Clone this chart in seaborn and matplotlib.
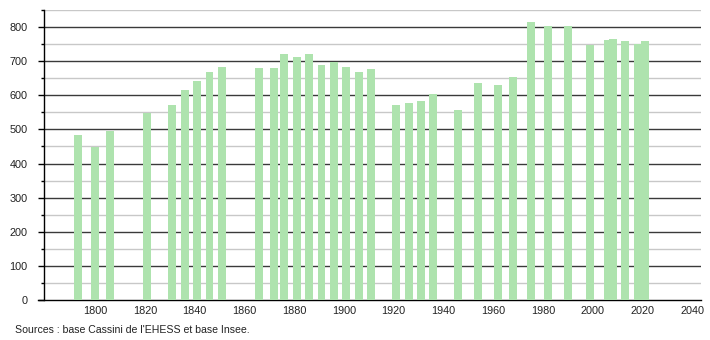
import numpy as np
import pandas as pd
import matplotlib
matplotlib.use("Agg")
import matplotlib.pyplot as plt
import seaborn as sns

years = [1793, 1800, 1806, 1821, 1831, 1836, 1841, 1846, 1851,
         1866, 1872, 1876, 1881, 1886, 1891, 1896, 1901, 1906, 1911,
         1921, 1926, 1931, 1936, 1946, 1954, 1962, 1968, 1975, 1982,
         1990, 1999, 2006, 2008, 2013, 2018, 2021]
population = [485, 449, 494, 549, 571, 615, 642, 669, 683,
              681, 681, 721, 712, 720, 688, 698, 684, 668, 677,
              571, 578, 582, 605, 556, 637, 629, 655, 815, 804,
              804, 748, 762, 766, 759, 750, 759]
x_ticks = list(range(1800, 2041, 20))
y_major = list(range(0, 801, 100))
source_text = "Sources : base Cassini de l'EHESS et base Insee."

sns.set_theme(style="white")
plt.rcParams["font.family"] = ["Liberation Sans", "DejaVu Sans"]

df = pd.DataFrame({"year": years, "pop": population})

fig = plt.figure(figsize=(7.1, 3.4), dpi=100)
ax = fig.add_axes([44 / 710, 1 - 300 / 340, (701 - 44) / 710, (300 - 10) / 340])

bar_years = 3.2
min_gap = np.diff(sorted(years)).min()
sns.barplot(data=df, x="year", y="pop", native_scale=True, errorbar=None,
            color="#aee3ae", saturation=1, width=bar_years / min_gap,
            edgecolor="none", ax=ax, zorder=3)

ax.set_xlim(1779.5, 2043.5)
ax.set_ylim(0, 850)
ax.set_xlabel("")
ax.set_ylabel("")

# grid lines
for v in range(50, 851, 100):
    ax.axhline(v, color="#c8c8c8", lw=1.0, zorder=1)
for v in y_major[1:]:
    ax.axhline(v, color="#3a3a3a", lw=1.0, zorder=1)

ax.set_xticks(x_ticks)
ax.set_xticklabels([str(t) for t in x_ticks])
ax.set_yticks(y_major)
ax.set_yticklabels([str(t) for t in y_major])
ax.set_yticks(list(range(50, 851, 100)), minor=True)

for s in ["top", "right"]:
    ax.spines[s].set_visible(False)
ax.spines["left"].set_color("black")
ax.spines["bottom"].set_color("black")
ax.spines["left"].set_linewidth(1.0)
ax.spines["bottom"].set_linewidth(1.0)
ax.spines["bottom"].set_bounds(1777.0, 2043.5)
ax.spines["bottom"].set_clip_on(False)

ax.tick_params(axis="y", which="major", length=4, width=1, color="black",
               pad=8, labelsize=7.8, labelcolor="#222222", left=True)
ax.tick_params(axis="y", which="minor", length=2.5, width=1, color="black", left=True)
ax.tick_params(axis="x", which="major", length=0, pad=4, labelsize=7.8,
               labelcolor="#222222")

fig.text(15 / 710, 1 - 330 / 340, source_text, fontsize=7.6, color="#222222",
         va="center", ha="left")

fig.savefig("out.png", dpi=100, facecolor="white")
